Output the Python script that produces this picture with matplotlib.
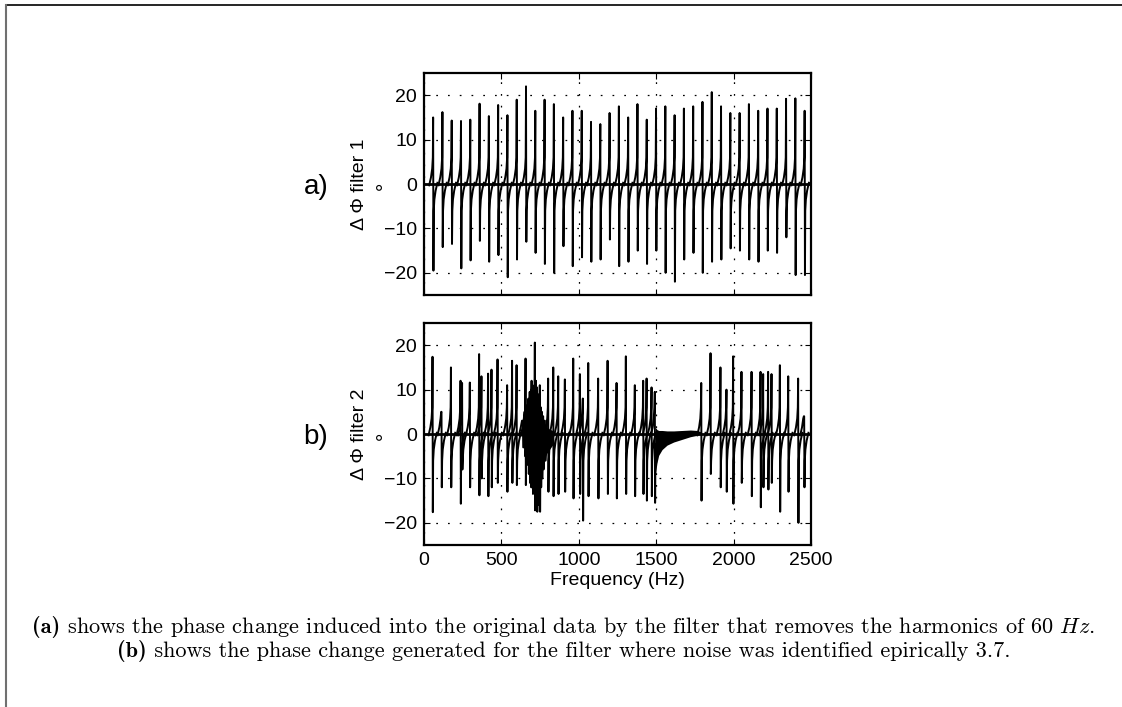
import matplotlib

matplotlib.use("Agg")
import matplotlib.pyplot as plt  # noqa: E402
from matplotlib.collections import LineCollection  # noqa: E402
from matplotlib.lines import Line2D  # noqa: E402

plt.rcParams["font.family"] = ["Liberation Sans", "DejaVu Sans"]
plt.rcParams["mathtext.fontset"] = "cm"

# --- panel a: filter removing the 60 Hz harmonics ---
A_FREQ = [60, 120, 180, 240, 300, 360, 420, 480, 540, 600, 660, 720, 780, 840,
          900, 960, 1020, 1080, 1140, 1200, 1260, 1320, 1380, 1440, 1500, 1560,
          1620, 1680, 1740, 1800, 1860, 1920, 1980, 2040, 2100, 2160, 2220,
          2280, 2340, 2400, 2460]
A_HI = [15.0, 16.2, 14.3, 14.2, 14.5, 18.1, 15.3, 17.8, 15.5, 19.0, 22.0, 16.5,
        19.0, 18.0, 15.0, 16.5, 16.5, 14.0, 13.5, 16.0, 17.5, 15.0, 18.0, 14.5,
        17.0, 17.5, 15.5, 17.0, 17.5, 18.5, 20.7, 17.5, 16.0, 16.0, 18.0, 16.5,
        17.0, 17.0, 19.2, 19.3, 16.5]
A_LO = [-19.5, -14.2, -13.5, -19.0, -17.2, -12.8, -17.5, -16.0, -21.0, -17.0,
        -13.0, -15.5, -18.0, -20.0, -14.0, -18.5, -16.5, -17.5, -17.0, -12.5,
        -18.5, -17.5, -15.0, -18.0, -15.0, -20.0, -22.0, -17.0, -15.5, -20.0,
        -17.5, -17.0, -14.5, -15.0, -17.0, -17.5, -15.0, -15.5, -12.0, -20.5,
        -20.5]

# --- panel b: filter for the empirically identified noise ---
B_FREQ = [56, 114, 175, 237, 247, 297, 357, 372, 415, 437, 476, 538, 570, 599,
          657, 696, 717, 749, 803, 836, 868, 911, 965, 1008, 1027, 1062, 1126,
          1187, 1245, 1305, 1363, 1417, 1439, 1471, 1492, 1792, 1852, 1916,
          1955, 1998, 2052, 2117, 2175, 2192, 2224, 2246, 2300, 2354, 2418,
          2457]
B_HI = [17.4, 5.0, 15.0, 12.0, 11.5, 11.6, 18.0, 13.0, 13.6, 14.5, 16.8, 11.0,
        16.5, 15.5, 17.0, 12.0, 20.6, 11.0, 12.5, 15.0, 13.0, 12.3, 17.0, 13.5,
        8.0, 16.0, 12.5, 16.5, 11.5, 17.5, 11.0, 12.0, 12.5, 10.5, 9.5, 11.5,
        18.2, 15.0, 10.0, 17.5, 14.0, 14.0, 14.0, 13.5, 14.0, 13.5, 15.5, 13.0,
        12.5, 4.0]
B_LO = [-17.6, -12.0, -12.0, -15.7, -8.0, -12.0, -13.8, -10.0, -14.0, -12.0,
        -11.0, -13.0, -11.0, -11.5, -11.5, -12.0, -17.2, -17.5, -13.0, -14.0,
        -13.5, -13.0, -14.5, -13.5, -19.5, -14.0, -14.5, -13.5, -14.5, -13.5,
        -14.0, -13.5, -15.0, -14.0, -15.5, -15.0, -9.0, -12.0, -13.0, -15.7,
        -11.0, -14.0, -16.5, -12.0, -12.5, -11.0, -17.5, -13.0, -20.0, -12.0]

# dense burst of small jumps around 700 Hz in panel b
BURST_FREQ = [640, 652, 664, 676, 684, 692, 703, 709, 724, 731, 738, 744, 756,
              763, 771, 782, 795]
BURST_HI = [3.0, 5.0, 6.5, 8.0, 9.5, 10.0, 11.0, 9.5, 12.0, 10.5, 9.0, 8.0,
            6.0, 5.0, 4.0, 3.0, 2.0]
BURST_LO = [-3.0, -5.0, -7.0, -9.0, -11.0, -12.0, -13.5, -12.5, -15.0, -17.5,
            -16.0, -14.0, -12.0, -10.0, -8.0, -6.0, -4.0]

# black core of that burst (envelope)
CORE_FREQ = [650, 680, 700, 720, 740, 760, 790, 830]
CORE_HI = [1.5, 3.5, 5.5, 7.0, 5.0, 3.0, 1.5, 0.8]
CORE_LO = [-1.5, -4.0, -6.0, -9.0, -10.0, -7.0, -4.5, -2.5]

# smooth settling after 1500 Hz in panel b
SETTLE_FREQ = [1495, 1505, 1516, 1538, 1570, 1613, 1667, 1721, 1764, 1790]
SETTLE_LO = [-9.0, -6.5, -4.8, -3.5, -2.5, -1.8, -1.2, -0.6, -0.3, 0.0]
SETTLE_HI = [1.5, 1.0, 0.8, 0.8, 0.7, 0.7, 0.8, 0.9, 0.8, 0.5]

# shoulder profile around each phase jump (offset in Hz, value in degrees)
PRE_DF = [-28, -15, -7, -3]
PRE_V = [-0.5, 1.5, 3.5, 6.0]
POST_DF = [3, 7, 15, 28]
POST_V = [-6.0, -3.5, -1.5, 0.5]

X_TICKS = [0, 500, 1000, 1500, 2000, 2500]
Y_TICKS = [-20, -10, 0, 10, 20]

CAPTION = [
    ("(a)", " shows the phase change induced into the original data by the "
            "filter that removes the harmonics of 60 $Hz$."),
    ("(b)", " shows the phase change generated for the filter where noise was "
            "identified epirically 3.7."),
]


def _spike_segments(freqs, highs, lows):
    segments = []
    for f, hi, lo in zip(freqs, highs, lows):
        pts = [(f + d, min(v, hi)) for d, v in zip(PRE_DF, PRE_V)]
        pts += [(f - 1, hi), (f + 1, lo)]
        pts += [(f + d, max(v, lo)) for d, v in zip(POST_DF, POST_V)]
        segments.append(pts)
    return segments


def _style_axes(ax, show_xlabels):
    ax.set_xlim(X_TICKS[0], X_TICKS[-1])
    ax.set_ylim(-25, 25)
    ax.set_xticks(X_TICKS)
    ax.set_yticks(Y_TICKS)
    ax.tick_params(direction="in", length=4, width=0.8, top=True, right=True,
                   labelsize=14, pad=5)
    if not show_xlabels:
        ax.tick_params(labelbottom=False)
    ax.grid(True, color="black", linestyle=(0, (1.4, 8)), linewidth=0.9)
    for spine in ax.spines.values():
        spine.set_linewidth(1.6)


fig = plt.figure(figsize=(11.22, 7.07), dpi=100)

ax_a = fig.add_axes([0.3779, 0.5827, 0.3449, 0.314])
ax_b = fig.add_axes([0.3779, 0.2291, 0.3449, 0.314])

for ax, freqs, highs, lows in ((ax_a, A_FREQ, A_HI, A_LO),
                               (ax_b, B_FREQ, B_HI, B_LO)):
    ax.axhline(0, color="black", linewidth=2.0, zorder=2)
    lc = LineCollection(_spike_segments(freqs, highs, lows), colors="black",
                        linewidths=1.4, zorder=3)
    ax.add_collection(lc)

ax_b.add_collection(LineCollection(_spike_segments(BURST_FREQ, BURST_HI, BURST_LO),
                                   colors="black", linewidths=1.4, zorder=3))
ax_b.fill_between(CORE_FREQ, CORE_LO, CORE_HI, color="black", lw=0, zorder=3)
ax_b.fill_between(SETTLE_FREQ, SETTLE_LO, SETTLE_HI, color="black", lw=0,
                  zorder=3)

_style_axes(ax_a, False)
_style_axes(ax_b, True)

ax_a.set_ylabel("\u0394 \u03a6 filter 1\n\u2218", fontsize=14)
ax_b.set_ylabel("\u0394 \u03a6 filter 2\n\u2218", fontsize=14)
for ax in (ax_a, ax_b):
    ax.yaxis.set_label_coords(-0.095, 0.5)
ax_b.set_xlabel("Frequency (Hz)", fontsize=14, labelpad=2)

fig.text(0.2815, 0.735, "a)", fontsize=20, ha="center", va="center")
fig.text(0.2815, 0.382, "b)", fontsize=20, ha="center", va="center")

# caption: bold tag + roman text, each line centred as a whole
renderer = fig.canvas.get_renderer()
for (tag, body), y in zip(CAPTION, (0.113, 0.079)):
    t_tag = fig.text(0, y, tag, family="cmb10", fontsize=16, va="center")
    t_body = fig.text(0, y, body, family="cmr10", fontsize=16, va="center")
    w_tag = t_tag.get_window_extent(renderer).width
    w_body = t_body.get_window_extent(renderer).width
    x0 = (1122 * 0.5025 - (w_tag + w_body) / 2) / 1122
    t_tag.set_x(x0)
    t_body.set_x(x0 + w_tag / 1122)

# page frame (top and left edges)
fig.add_artist(Line2D([6 / 1122, 1], [1 - 4.5 / 707, 1 - 4.5 / 707],
                      transform=fig.transFigure, color="black", lw=1.2))
fig.add_artist(Line2D([6 / 1122, 6 / 1122], [0, 1 - 4.5 / 707],
                      transform=fig.transFigure, color="#707070", lw=1.5))

fig.savefig("out.png", dpi=100)
plt.close(fig)
